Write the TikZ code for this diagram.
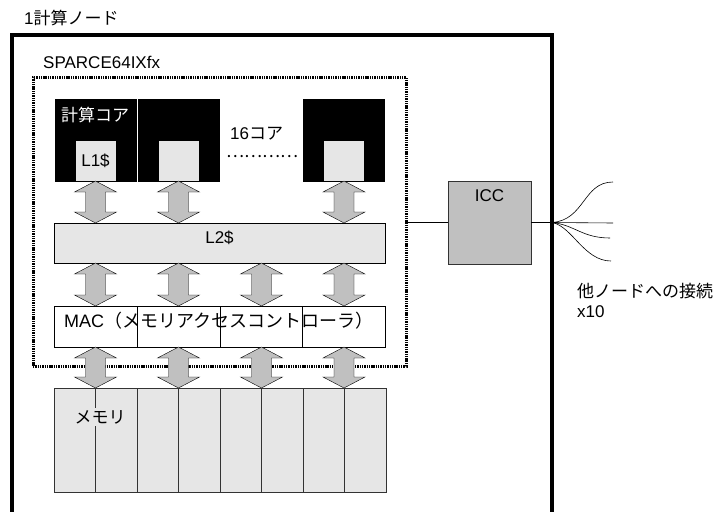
\documentclass[tikz,border=0pt]{standalone}
\usepackage{fontspec}
\setmainfont{Liberation Sans}
\newfontfamily\jpf{Noto Sans CJK JP}
\usetikzlibrary{calc,positioning}
\definecolor{boxgray}{RGB}{230,230,230}
\definecolor{arrowgray}{RGB}{192,192,192}
\tikzset{
  jp/.style={font=\fontsize{17}{20}\selectfont,inner sep=0pt},
  box/.style={draw,rectangle,inner sep=0pt,outer sep=0pt},
  corebox/.style={box,fill=black,minimum width=81pt,minimum height=82pt},
  cachebox/.style={box,fill=boxgray,minimum width=41pt,minimum height=41pt},
  macbox/.style={box,fill=white,minimum width=83pt,minimum height=41pt},
  membox/.style={box,draw=black!80,fill=boxgray,minimum width=41.5pt,minimum height=104pt},
  dblarrow/.style={draw=black,fill=arrowgray,to path={
    let \p1=(\tikztostart), \p2=(\tikztotarget) in
    (\x1,\y1) -- (\x1+21pt,\y1-11pt) -- (\x1+10pt,\y1-11pt) -- (\x1+10pt,\y2+11pt)
    -- (\x1+21pt,\y2+11pt) -- (\x1,\y2) -- (\x1-21pt,\y2+11pt) -- (\x1-10pt,\y2+11pt)
    -- (\x1-10pt,\y1-11pt) -- (\x1-21pt,\y1-11pt) -- cycle}},
}

\begin{document}
\begin{tikzpicture}[x=1pt,y=-1pt]
  \useasboundingbox (0,0) rectangle (719,511);

  %% compute node (outer frame)
  \node[box,line width=3.4pt,minimum width=540pt,minimum height=479pt]
        (node) at (282,274.5) {};
  \node[jp,anchor=west] (nodelbl) at (24,18) {1{\jpf 計算ノード}};

  %% chip (dotted)
  \node[box,line width=3pt,dash pattern=on 1.4pt off 0.9pt,
        minimum width=373pt,minimum height=289pt] (chip) at (219.5,221.5) {};
  \node[jp,anchor=west] (chiplbl) at (43,62) {SPARCE64IXfx};

  %% cores + L1$
  \node[corebox] (core1) at (95.5,140) {};
  \node[corebox] (core2) at (178.5,140) {};
  \node[corebox] (core3) at (344,140) {};
  \foreach \c in {1,2,3}
    \node[cachebox,anchor=south] (l1\c) at (core\c.south) {};
  \node[jp] at (l11) {L1\$};
  \node[jp,text=white,anchor=west] (corelbl) at (61,115) {\jpf 計算コア};
  \node[jp,anchor=west] (ncore) at (230,134) {16{\jpf コア}};
  \node[jp,anchor=west] (dots) at (226,157) {\jpf …………};

  %% L2$
  \node[box,fill=boxgray,minimum width=331pt,minimum height=40pt]
        (l2) at (219.5,243) {};
  \node[jp] at (219.5,238) {L2\$};

  %% MAC
  \foreach \i/\x in {1/95.5,2/178.5,3/261.5,4/344}
    \node[macbox] (mac\i) at (\x,326.5) {};
  \node[jp,anchor=west,font=\fontsize{18}{20}\selectfont] (maclbl) at (64,321)
        {MAC{\jpf （メモリアクセスコントローラ）}};

  %% memory
  \foreach \i in {1,...,8}
    \node[membox] (mem\i) at ({54+20.75+41.5*(\i-1)},440) {};
  \node[jp,fill=boxgray,inner sep=2pt] (memlbl) at (100,417) {\jpf メモリ};

  %% ICC
  \node[box,fill=arrowgray,draw=black!80,minimum width=83pt,minimum height=83pt,
        label={[jp,anchor=north,yshift=-8pt]north:ICC}] (icc) at (489.5,222.5) {};

  %% arrows
  \foreach \c in {core1,core2,core3}
    \draw[dblarrow] (\c.south) to (\c.south |- l2.north);
  \foreach \m in {mac1,mac2,mac3,mac4} {
    \draw[dblarrow] (\m.north |- l2.south) to (\m.north);
    \draw[dblarrow] (\m.south) to (\m.south |- mem1.north);
  }

  %% links to other nodes
  \coordinate (hub) at (node.east |- icc.east);
  \coordinate (t1) at (613,182);
  \coordinate (t2) at (613,223);
  \coordinate (t3) at (610,238);
  \coordinate (t4) at (611,261);
  \draw[thin] (chip.east |- icc.west) -- (icc.west);
  \draw[line width=1.3pt] (icc.east) -- (hub);
  \draw[semithick] (hub) .. controls (585,220) and (583,182) .. (t1);
  \draw[semithick] (hub) -- (t2);
  \draw[semithick] (hub) .. controls (575,225) and (582,238) .. (t3);
  \draw[semithick] (hub) .. controls (572,226) and (584,261) .. (t4);
  \node[jp,anchor=north west,align=left] (linklbl) at (577,283)
        {{\jpf 他ノードへの接続}\\x10};
\end{tikzpicture}
\end{document}
